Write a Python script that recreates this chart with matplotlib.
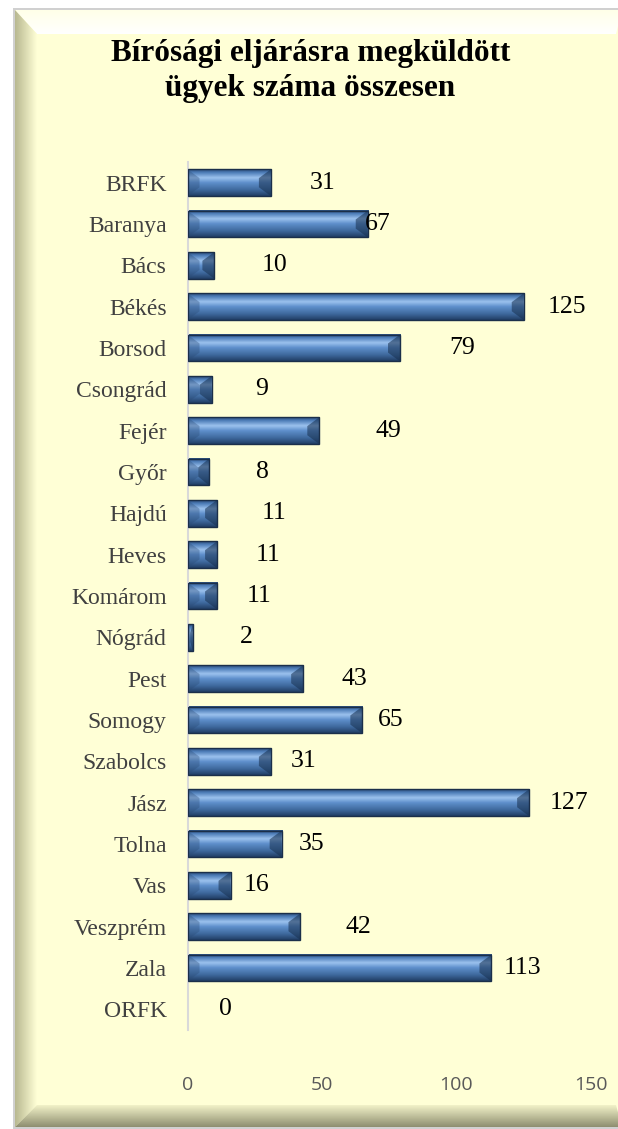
import numpy as np
import matplotlib
matplotlib.use("Agg")
import matplotlib.pyplot as plt
from matplotlib.patches import Polygon, Rectangle
from matplotlib.colors import LinearSegmentedColormap, to_rgb

# data
megyek = ["BRFK", "Baranya", "Bács", "Békés", "Borsod", "Csongrád", "Fejér",
          "Győr", "Hajdú", "Heves", "Komárom", "Nógrád", "Pest", "Somogy",
          "Szabolcs", "Jász", "Tolna", "Vas", "Veszprém", "Zala", "ORFK"]
ugyek = [31, 67, 10, 125, 79, 9, 49, 8, 11, 11, 11, 2, 43, 65, 31, 127, 35,
         16, 42, 113, 0]
# where the (hand-moved) value labels sit, in axis units
cimke_x = [50.3, 70.8, 32.5, 141, 102, 27.7, 74.5, 28, 32, 30, 26.6, 22, 62,
           75.6, 43, 141.8, 46.3, 25.8, 63.4, 124.7, 14]
x_ticks = [0, 50, 100, 150]
title = "Bírósági eljárásra megküldött\nügyek száma összesen"

W, H = 618, 1129
fig = plt.figure(figsize=(W / 100, H / 100), dpi=100)
fig.patch.set_facecolor("white")

# ---- beveled yellow panel, drawn in pixel coords ----
bg = fig.add_axes([0, 0, 1, 1])
bg.set_xlim(0, W)
bg.set_ylim(H, 0)
bg.axis("off")

panel = "#FFFFD6"
L, T, R, B = 15, 10, 622, 1127
bl, bt, bb, br = 22, 24, 22, 6


def grad_poly(pts, c0, c1, vertical, extent):
    # fill a polygon with a linear gradient c0 -> c1
    n = 64
    t = np.linspace(0, 1, n)
    a, b = np.array(to_rgb(c0)), np.array(to_rgb(c1))
    col = a[None, :] * (1 - t[:, None]) + b[None, :] * t[:, None]
    img = col[:, None, :] if vertical else col[None, :, :]
    im = bg.imshow(img, extent=extent, aspect="auto", zorder=1,
                   interpolation="bilinear")
    poly = Polygon(pts, closed=True, facecolor="none", edgecolor="none")
    bg.add_patch(poly)
    im.set_clip_path(poly)


bg.add_patch(Rectangle((L - 2, T - 2), R - L + 4, B - T + 4,
                       facecolor="#D0D0D0", edgecolor="none", zorder=0))
bg.add_patch(Rectangle((L, T), R - L, B - T, facecolor=panel,
                       edgecolor="none", zorder=0.5))
# top bevel (light)
grad_poly([(L, T), (R, T), (R - br, T + bt), (L + bl, T + bt)],
          "#FFFFE8", "#FFFFFF", True, (L, R, T + bt, T))
# left bevel (shaded)
grad_poly([(L, T), (L + bl, T + bt), (L + bl, B - bb), (L, B)],
          "#B8B890", "#FFFFD6", False, (L, L + bl, B, T))
# bottom bevel (dark)
grad_poly([(L, B), (L + bl, B - bb), (R - br, B - bb), (R, B)],
          "#F2F2C8", "#8E8E70", True, (L, R, B, B - bb))

fig.text(0.502, 0.937, title, ha="center", va="center",
         family="Liberation Serif", weight="bold", fontsize=22.5,
         linespacing=1.25, color="black")

# ---- bar chart ----
ax = fig.add_axes([0.3034, 0.0877, 0.6529, 0.7688])
ax.patch.set_alpha(0)

y = np.arange(len(megyek))
h = 0.65
px_per_unit = (0.6529 * W) / 150.0

stops = [(0.0, "#2B4C78"), (0.12, "#4D7DB8"), (0.32, "#9CC2EE"),
         (0.5, "#5F90CC"), (0.78, "#3E689C"), (1.0, "#213E66")]
bar_cmap = LinearSegmentedColormap.from_list("bev", stops)
grad = bar_cmap(np.linspace(0, 1, 64))[:, None, :3]

for yi, v in zip(y, ugyek):
    if v <= 0:
        continue
    ax.imshow(grad, extent=(0, v, yi - h / 2, yi + h / 2), origin="lower",
              aspect="auto", zorder=2, interpolation="bilinear")
    d = min(12 / px_per_unit, v / 2)
    top, bot = yi - h / 2, yi + h / 2
    hh = h * 0.33
    # right end bevel
    ax.add_patch(Polygon([(v, top), (v - d, top + hh), (v - d, bot - hh),
                          (v, bot)], facecolor="#17304F", alpha=0.55,
                         edgecolor="none", zorder=3))
    # left end bevel
    ax.add_patch(Polygon([(0, top), (d, top + hh), (d, bot - hh), (0, bot)],
                         facecolor="#2A4A75", alpha=0.35, edgecolor="none",
                         zorder=3))
    ax.add_patch(Rectangle((0, top), v, h, facecolor="none",
                           edgecolor="#1B2F4A", lw=1.0, zorder=4))

for yi, x, v in zip(y, cimke_x, ugyek):
    ax.text(x, yi, str(v), ha="center", va="center", fontsize=18.5,
            family="Liberation Serif", color="black", zorder=5)

ax.set_xlim(0, 150)
ax.set_ylim(len(megyek) - 0.5, -0.5)
ax.set_yticks(y)
ax.set_yticklabels(megyek, family="Liberation Serif", fontsize=17,
                   color="#404040")
ax.set_xticks(x_ticks)
ax.set_xticklabels([str(t) for t in x_ticks], family="Open Sans",
                   fontsize=14, color="#595959")
ax.tick_params(axis="y", length=0, pad=15)
ax.tick_params(axis="x", length=0, pad=33)
for s in ["top", "right", "bottom"]:
    ax.spines[s].set_visible(False)
ax.spines["left"].set_color("#D9D9D9")
ax.spines["left"].set_linewidth(1.5)

fig.savefig("out.png", dpi=100)
